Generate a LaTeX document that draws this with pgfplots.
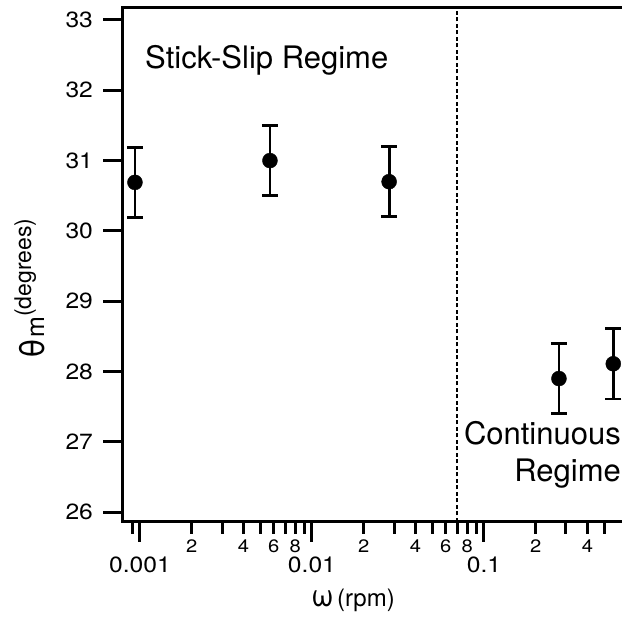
\documentclass[border=0pt]{standalone}
\usepackage{fontspec}
\setmainfont{TeX Gyre Heros}
\newfontfamily\tickfont[FakeStretch=1.12]{TeX Gyre Heros}
\usepackage{pgfplots}
\pgfplotsset{compat=1.18}
\pgfplotstableread{
x        y     e
0.000935 30.69 0.5
0.00570  31.00 0.5
0.0281   30.70 0.5
0.273    27.90 0.5
0.565    28.11 0.5
}\datatable
\begin{document}
\begin{tikzpicture}[x=1pt,y=1pt]
\useasboundingbox (0,0) rectangle (622,621);
\clip (0,0) rectangle (622,621);
\begin{axis}[
  at={(123pt,99pt)}, anchor=south west,
  scale only axis, width=499pt, height=514pt,
  xmode=log, xmin=0.000797, xmax=0.635, ymin=25.86, ymax=33.17,
  axis x line*=bottom, axis y line*=left,
  axis line style={line width=3pt, line cap=rect},
  tick align=outside,
  major tick length=20pt, minor tick length=12pt,
  tick style={black, line width=3pt},
  ytick={26,27,28,29,30,31,32,33},
  xtick={0.001,0.01,0.1}, xticklabels={0.001,0.01,0.1},
  minor xtick={0.0009,0.002,0.003,0.004,0.005,0.006,0.007,0.008,0.009,0.02,0.03,0.04,0.05,0.06,0.07,0.08,0.09,0.2,0.3,0.4,0.5},
  extra x ticks={0.002,0.004,0.006,0.008,0.02,0.04,0.06,0.08,0.2,0.4},
  extra x tick labels={2,4,6,8,2,4,6,8,2,4},
  extra x tick style={major tick length=0pt, xticklabel style={font=\tickfont\fontsize{18}{18}\selectfont, inner sep=0pt, yshift=-3pt}},
  ticklabel style={font=\tickfont\fontsize{22}{22}\selectfont, inner sep=0pt},
  xticklabel style={yshift=-15pt},
  yticklabel style={xshift=-10pt},
  /pgf/number format/assume math mode=true,
  clip=false,
]
\addplot[black, line width=2.4pt, dash pattern=on 4pt off 2.5pt] coordinates {(0.0697,25.86) (0.0697,33.17)};
\addplot[black, only marks, mark=*, mark size=7.5pt,
  error bars/.cd, y dir=both, y explicit,
  error bar style={line width=2.8pt},
  error mark options={rotate=90, mark size=8pt, line width=2.8pt}]
  table[x=x, y=y, y error=e] {\datatable};
\draw[line width=3pt] (rel axis cs:0,1) -- (rel axis cs:1.1,1);
\end{axis}
\node[anchor=base west, inner sep=0, font=\fontsize{31}{31}\selectfont] at (145,552) {Stick-Slip Regime};
\node[anchor=base east, inner sep=0, font=\fontsize{31}{31}\selectfont] at (621,176) {Continuous};
\node[anchor=base east, inner sep=0, font=\fontsize{31}{31}\selectfont] at (621,139) {Regime};
\node[anchor=base west, inner sep=0, rotate=90, font=\fontsize{34}{34}\selectfont] at (44,262) {θ};
\node[anchor=base west, inner sep=0, rotate=90, font=\fontsize{25}{25}\selectfont] at (44,283) {m};
\node[anchor=base west, inner sep=0, rotate=90, font=\fontsize{23}{23}\selectfont] at (31,304) {(degrees)};
\node[anchor=base west, inner sep=0, font=\fontsize{30}{30}\selectfont] at (311,14) {ω};
\node[anchor=base west, inner sep=0, font=\fontsize{24}{24}\selectfont] at (337,14) {(rpm)};
\end{tikzpicture}
\end{document}
